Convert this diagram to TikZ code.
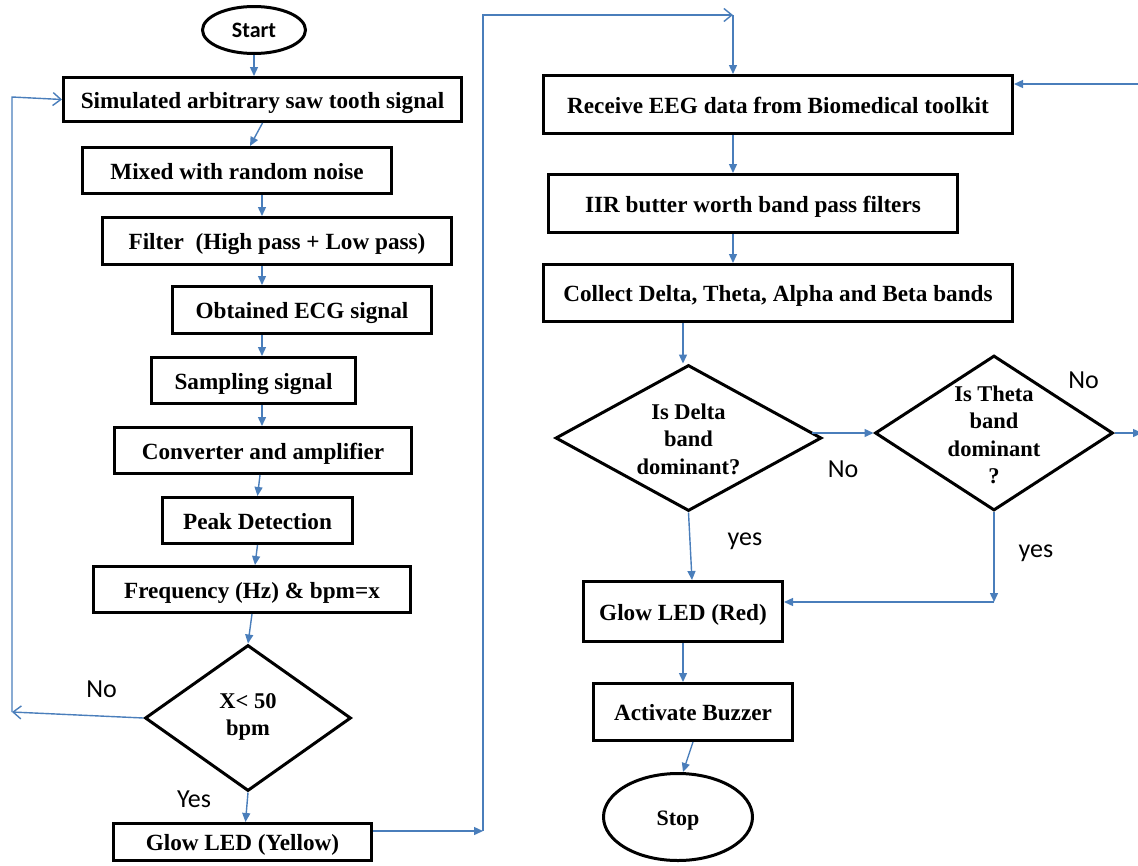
\documentclass[tikz,border=0pt]{standalone}
\usepackage{fontspec}
\setmainfont{Liberation Serif}
\newfontfamily\calib{Carlito}
\usetikzlibrary{arrows.meta,shapes.geometric}
\definecolor{flowblue}{RGB}{74,126,187}
\tikzset{
  procbox/.style={draw=black, line width=3pt, inner sep=0pt, align=center,
    text height=20.5pt, text depth=3.5pt,
    font=\fontsize{23.2}{27}\selectfont\bfseries},
  decision/.style={draw=black, shape=diamond, line width=3pt, inner sep=0pt},
  dtext/.style={align=center, inner sep=0pt, font=\fontsize{22.5}{27.5}\selectfont\bfseries},
  terminal/.style={draw=black, ellipse, line width=3pt, inner sep=0pt},
  flow/.style={draw=flowblue, line width=1.4pt, -{Triangle[length=9pt,width=8pt]}},
  flowopen/.style={draw=flowblue, line width=1.4pt, -{Straight Barb[length=8pt,width=13pt]}},
  plain/.style={draw=flowblue, line width=1.4pt},
  answer/.style={font=\calib\fontsize{26}{30}\selectfont, anchor=base, inner sep=0pt},
}
\begin{document}
\begin{tikzpicture}[x=1pt,y=-1pt]
\useasboundingbox (0,0) rectangle (1138,865);

% ---------- heart-rate branch ----------
\node[terminal, font=\calib\bfseries\fontsize{22}{26}\selectfont,
      minimum width=103pt, minimum height=47pt] (start) at (254,30) {Start};
\node[procbox, minimum width=398pt, minimum height=44pt] (b1) at (262.5,99.5) {Simulated arbitrary saw tooth signal};
\node[procbox, minimum width=309pt, minimum height=46pt] (b2) at (237,170.5) {Mixed with random noise};
\node[procbox, minimum width=349pt, minimum height=47pt] (b3) at (277,241) {Filter~~(High pass + Low pass)};
\node[procbox, minimum width=259pt, minimum height=47pt] (b4) at (302,310) {Obtained ECG signal};
\node[procbox, minimum width=204pt, minimum height=46pt] (b5) at (253.5,380.5) {Sampling signal};
\node[procbox, minimum width=297pt, minimum height=46pt] (b6) at (263,450.5) {Converter and amplifier};
\node[procbox, minimum width=190pt, minimum height=46pt] (b7) at (257.5,520.5) {Peak Detection};
\node[procbox, minimum width=317pt, minimum height=46pt] (b8) at (252,589.5) {Frequency (Hz) \& bpm=x};
\node[decision, minimum width=206pt, minimum height=146pt] (x5) at (248,718) {};
\node[dtext] (x5t) at (248,717) {X< 50\\bpm};
\node[procbox, minimum width=258pt, minimum height=37pt] (b9) at (242.5,842) {Glow LED (Yellow)};

\coordinate (colL) at (262,0);
\coordinate (loopL) at (12,712);
\coordinate (loopT) at (12,97);
\coordinate (jR) at (483,831);
\coordinate (jT) at (483,15);
\coordinate (jE) at (733,15);

\draw[flow] (start.south) -- (start.south |- b1.north);
\draw[flow] (b1.south) -- ([xshift=13pt]b2.north);
\draw[flow] (colL |- b2.south) -- (colL |- b3.north);
\draw[flow] (colL |- b3.south) -- (colL |- b4.north);
\draw[flow] (colL |- b4.south) -- (colL |- b5.north);
\draw[flow] (colL |- b5.south) -- (colL |- b6.north);
\draw[flow] ([xshift=-3pt]b6.south) -- (b7.north);
\draw[flow] (b7.south) -- ([xshift=3pt]b8.north);
\draw[flow] (b8.south) -- (x5.north);
\draw[flow] (x5.south) -- ([xshift=3pt]b9.north);

\draw[flowopen] (x5.west) -- (loopL);
\draw[flowopen] (loopL) -- (loopT) -- (b1.west);
\node[answer] (noA) at (101.5,697) {No};
\node[answer] (yesA) at (194,807) {Yes};

\draw[flow] ([yshift=11pt]b9.east) -- (jR);
\draw[flowopen] (jR) -- (jT) -- (jE);

% ---------- EEG branch ----------
\node[procbox, minimum width=469pt, minimum height=58pt] (r1) at (778,104.5) {Receive EEG data from Biomedical toolkit};
\node[procbox, minimum width=409pt, minimum height=58pt] (r2) at (753,203.5) {IIR butter worth band pass filters};
\node[procbox, minimum width=469pt, minimum height=57pt] (r3) at (778,293) {Collect Delta, Theta, Alpha and Beta bands};
\node[decision, minimum width=266pt, minimum height=146pt] (dd) at (688.5,438) {};
\node[dtext] (ddt) at (688.5,439) {Is Delta\\band\\dominant?};
\node[decision, minimum width=238pt, minimum height=155pt] (th) at (994,433) {};
\node[dtext] (tht) at (994,435) {Is Theta\\band\\dominant\\?};
\node[procbox, minimum width=199pt, minimum height=60pt] (red) at (683,611.5) {Glow LED (Red)};
\node[procbox, minimum width=199pt, minimum height=57pt] (buz) at (693,712) {Activate Buzzer};
\node[terminal, font=\fontsize{22}{26}\selectfont\bfseries, text height=20pt, text depth=4pt,
      minimum width=149pt, minimum height=87pt] (stop) at (678,817) {Stop};

\coordinate (colR) at (733,0);
\coordinate (colD) at (683,0);
\coordinate (inR) at (1142,84);
\coordinate (outR) at (1142,433);
\coordinate (thC) at (994,602);

\draw[flow] (jE) -- (jE |- r1.north);
\draw[flow] (inR) -- ([yshift=20.5pt]r1.east);
\draw[flow] (colR |- r1.south) -- (colR |- r2.north);
\draw[flow] (colR |- r2.south) -- (colR |- r3.north);
\draw[flow] (colD |- r3.south) -- (colD |- dd.north);
\draw[flow] ([xshift=-11pt]th.west -| dd.east) -- (th.west);
\draw[flow] (th.east) -- (outR);
\node[answer] (noD) at (843,477) {No};
\node[answer] (noT) at (1083.5,388) {No};
\draw[flow] (dd.south) -- ([xshift=9pt]red.north);
\node[answer] (yesD) at (745,545) {yes};
\draw[flow] (th.south) -- (thC);
\draw[flow] (thC) -- (thC -| red.east);
\node[answer] (yesT) at (1036,557) {yes};
\draw[flow] (red.south) -- (red.south |- buz.north);
\draw[flow] (buz.south) -- ([xshift=5pt]stop.north);
\end{tikzpicture}
\end{document}
